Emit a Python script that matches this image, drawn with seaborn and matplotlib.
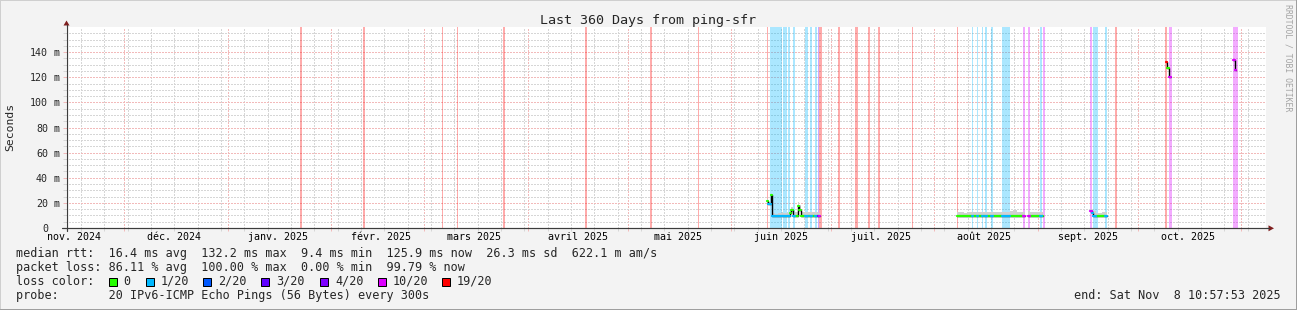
import matplotlib
matplotlib.use("Agg")
import matplotlib.pyplot as plt
import matplotlib.dates as mdates
from matplotlib.lines import Line2D
from matplotlib.patches import Rectangle, Polygon
from matplotlib.ticker import FixedLocator, NullFormatter
import numpy as np
import pandas as pd
import seaborn as sns

# ---------------- data ----------------
title = "Last 360 Days from ping-sfr"
end_time = "2025-11-08 10:57:53"
span_days = 360
end_label = "end: Sat Nov  8 10:57:53 2025"
watermark = "RRDTOOL / TOBI OETIKER"
y_title = "Seconds"

month_labels = ["nov. 2024", "déc. 2024", "janv. 2025", "févr. 2025", "mars 2025",
                "avril 2025", "mai 2025", "juin 2025", "juil. 2025", "août 2025",
                "sept. 2025", "oct. 2025"]
first_month = "2024-11-01"

y_ticks_ms = [0, 20, 40, 60, 80, 100, 120, 140]
y_tick_labels = ["0", "20 m", "40 m", "60 m", "80 m", "100 m", "120 m", "140 m"]
y_max_ms = 160

loss_levels = [0, 1, 2, 3, 4, 10, 19]
loss_labels = ["0", "1/20", "2/20", "3/20", "4/20", "10/20", "19/20"]
loss_colors = ["#26ff00", "#00b8ff", "#0059ff", "#5e00ff", "#7e00ff", "#dd00ff", "#ff0000"]

stat_rtt = "median rtt:  16.4 ms avg  132.2 ms max  9.4 ms min  125.9 ms now  26.3 ms sd  622.1 m am/s"
stat_loss = "packet loss: 86.11 % avg  100.00 % max  0.00 % min  99.79 % now"
loss_row_title = "loss color:"
probe_line = "probe:       20 IPv6-ICMP Echo Pings (56 Bytes) every 300s"

# loss background periods
band_start = ["2025-01-22 16:00", "2025-02-10 13:00", "2025-03-06 06:00", "2025-03-10 18:00",
              "2025-03-24 13:00", "2025-04-18 04:00", "2025-05-07 16:00", "2025-05-21 22:00",
              "2025-06-11 16:00", "2025-06-12 16:00", "2025-06-16 13:00", "2025-06-18 01:00",
              "2025-06-19 13:00", "2025-06-23 01:00", "2025-06-24 16:00", "2025-06-26 04:00",
              "2025-06-27 01:00", "2025-06-27 08:00", "2025-07-03 01:00", "2025-07-08 04:00",
              "2025-07-12 01:00", "2025-07-15 01:00", "2025-07-25 06:00", "2025-08-07 18:00",
              "2025-08-12 06:00", "2025-08-13 18:00", "2025-08-15 06:00", "2025-08-16 04:00",
              "2025-08-17 23:00", "2025-08-21 06:00", "2025-08-27 13:00", "2025-08-29 01:00",
              "2025-09-01 16:00", "2025-09-02 13:00", "2025-09-16 16:00", "2025-09-17 13:00",
              "2025-09-21 04:00", "2025-09-24 04:00", "2025-10-09 04:00", "2025-10-10 09:00",
              "2025-10-29 13:00"]
band_end = ["2025-01-23 06:00", "2025-02-11 04:00", "2025-03-06 13:00", "2025-03-11 01:00",
            "2025-03-25 04:00", "2025-04-18 18:00", "2025-05-08 06:00", "2025-05-22 05:00",
            "2025-06-11 23:00", "2025-06-16 06:00", "2025-06-17 18:00", "2025-06-18 16:00",
            "2025-06-20 04:00", "2025-06-24 01:00", "2025-06-25 06:00", "2025-06-26 18:00",
            "2025-06-27 08:00", "2025-06-28 06:00", "2025-07-03 16:00", "2025-07-09 01:00",
            "2025-07-12 16:00", "2025-07-15 16:00", "2025-07-25 13:00", "2025-08-08 01:00",
            "2025-08-12 13:00", "2025-08-14 01:00", "2025-08-15 13:00", "2025-08-16 18:00",
            "2025-08-18 13:00", "2025-08-23 16:00", "2025-08-28 04:00", "2025-08-29 16:00",
            "2025-09-02 06:00", "2025-09-03 04:00", "2025-09-17 06:00", "2025-09-19 01:00",
            "2025-09-21 18:00", "2025-09-24 18:00", "2025-10-09 18:00", "2025-10-11 06:00",
            "2025-10-31 01:00"]
band_loss = [19, 19, 19, 19, 19, 19, 19, 19,
             19, 1, 1, 1, 1, 1, 1, 1,
             3, 19, 19, 19, 19, 19, 19, 19,
             1, 1, 1, 1, 1, 1, 10, 10,
             1, 10, 10, 1, 1, 19, 19, 10,
             10]

# median rtt (ms), loss count (of 20), data segment, top of smoke (ms)
med_time = ["2025-06-11 18:00", "2025-06-12 02:00", "2025-06-12 20:00", "2025-06-13 04:00",
            "2025-06-14 04:00", "2025-06-15 04:00", "2025-06-16 04:00", "2025-06-16 14:00",
            "2025-06-17 18:00", "2025-06-18 02:00", "2025-06-18 16:00", "2025-06-18 23:00",
            "2025-06-19 12:00", "2025-06-20 06:00", "2025-06-20 22:00", "2025-06-21 08:00",
            "2025-06-21 20:00", "2025-06-22 20:00", "2025-06-23 02:00", "2025-06-24 02:00",
            "2025-06-24 16:00", "2025-06-25 06:00", "2025-06-26 04:00", "2025-06-26 18:00",
            "2025-06-27 01:00", "2025-06-27 08:00", "2025-06-27 16:00",
            "2025-08-07 18:00", "2025-08-08 18:00", "2025-08-09 18:00", "2025-08-10 18:00",
            "2025-08-11 18:00", "2025-08-12 06:00", "2025-08-12 14:00", "2025-08-13 18:00",
            "2025-08-14 02:00", "2025-08-15 06:00", "2025-08-15 14:00", "2025-08-16 04:00",
            "2025-08-16 18:00", "2025-08-17 23:00", "2025-08-18 14:00", "2025-08-19 14:00",
            "2025-08-20 14:00", "2025-08-21 06:00", "2025-08-23 16:00", "2025-08-24 16:00",
            "2025-08-25 16:00", "2025-08-26 16:00", "2025-08-27 12:00", "2025-08-28 02:00",
            "2025-08-29 01:00", "2025-08-29 16:00", "2025-08-30 16:00", "2025-08-31 16:00",
            "2025-09-01 16:00", "2025-09-02 06:00", "2025-09-02 13:00",
            "2025-09-16 14:00", "2025-09-17 06:00", "2025-09-17 16:00", "2025-09-18 08:00",
            "2025-09-19 08:00", "2025-09-20 08:00", "2025-09-21 04:00", "2025-09-21 16:00",
            "2025-10-09 11:00", "2025-10-09 18:00", "2025-10-10 09:00", "2025-10-11 02:00",
            "2025-10-29 12:00", "2025-10-30 02:00", "2025-10-30 14:00"]
med_ms = [21.5, 19.0, 26.5, 9.3, 9.3, 9.3, 9.5, 9.3, 9.5, 9.5, 12.0, 14.3, 9.5, 9.5,
          17.5, 14.0, 9.5, 9.5, 9.5, 9.5, 9.5, 9.5, 9.5, 9.5, 9.5, 9.5, 9.5,
          9.5, 9.5, 9.5, 9.6, 9.5, 9.5, 9.5, 9.5, 9.5, 9.5, 9.5, 9.5, 9.5, 9.5, 9.5, 9.6,
          9.5, 9.5, 9.5, 9.5, 9.5, 9.5, 9.5, 9.5,
          9.5, 9.5, 9.5, 9.5, 9.5, 9.5, 9.5,
          13.8, 11.8, 9.3, 9.3, 9.3, 9.3, 9.5, 9.5,
          132.3, 127.0, 120.4, 120.4,
          133.6, 125.9, 125.9]
med_loss = [0, 1, 0, 1, 1, 1, 1, 1, 0, 1, 0, 0, 1, 0, 0, 0, 0, 0, 1, 0, 1, 0, 1, 0, 3, 10, 10,
            0, 0, 0, 0, 0, 1, 0, 1, 0, 1, 0, 1, 0, 1, 0, 0, 0, 1, 0, 0, 0, 0, 10, 10,
            10, 0, 0, 0, 1, 0, 0,
            10, 1, 1, 0, 0, 0, 1, 1,
            19, 0, 10, 10,
            10, 10, 10]
med_seg = [1] * 27 + [2] * 24 + [3] * 7 + [4] * 8 + [5] * 4 + [6] * 3
smoke_hi_ms = [23, 21, 27, 12, 11.5, 12, 12.5, 12, 13, 12, 15, 17, 12, 13, 21, 18, 13, 12.5,
               13, 12.5, 13, 12.5, 13, 12.5, 12, 12, 12,
               12.5, 12.5, 12, 12.5, 12.5, 12.5, 12.5, 12.5, 12.5, 13, 12.5, 13, 12.5, 13,
               12.5, 13, 12.5, 13, 13.5, 14, 13, 12.5, 13, 13,
               13.5, 12.5, 12.5, 12.5, 12.5, 12.5, 12.5,
               15, 14.5, 13.5, 12, 12, 12.5, 13, 13,
               132.3, 127.0, 120.4, 120.4,
               133.6, 125.9, 125.9]

# ---------------- style ----------------
W, H = 1297, 310
sns.set_theme(style="white")
plt.rcParams["font.family"] = ["DejaVu Sans Mono", "DejaVu Sans"]
plt.rcParams["lines.scale_dashes"] = False

BACK = "#f3f3f3"
GRID = "#d6d6d6"
MGRID = "#f2baba"
AXIS = "#3c3c3c"
ARROW = "#7f1f1f"
PX = 0.72  # one pixel in points at 100 dpi

fig = plt.figure(figsize=(W / 100, H / 100), dpi=100, facecolor=BACK)


def fx(x):
    return x / W


def fy(y):
    return 1 - y / H


plot_l, plot_r, plot_t, plot_b = 66, 1266, 27, 228
ax = fig.add_axes([fx(plot_l), fy(plot_b), (plot_r - plot_l) / W, (plot_b - plot_t) / H])
ax.set_facecolor("white")
for s in ax.spines.values():
    s.set_visible(False)

t_end = pd.Timestamp(end_time)
t_start = t_end - pd.Timedelta(days=span_days)
ax.set_xlim(t_start, t_end)
ax.set_ylim(0, y_max_ms)

# grid
ax.xaxis.set_major_locator(mdates.MonthLocator())
ax.xaxis.set_minor_locator(mdates.WeekdayLocator(byweekday=mdates.MO))
ax.xaxis.set_major_formatter(NullFormatter())
ax.xaxis.set_minor_formatter(NullFormatter())
ax.yaxis.set_major_locator(FixedLocator(y_ticks_ms))
ax.yaxis.set_minor_locator(FixedLocator(np.arange(5, y_max_ms, 5)))
ax.yaxis.set_major_formatter(NullFormatter())
ax.yaxis.set_minor_formatter(NullFormatter())
dot = (0, (1.5 * PX, 1.5 * PX))
ax.grid(True, which="major", color=MGRID, linestyle=dot, linewidth=PX, antialiased=False)
ax.grid(True, which="minor", color=GRID, linestyle=dot, linewidth=PX, antialiased=False)
ax.set_axisbelow(True)
ax.tick_params(which="major", direction="out", length=3 * PX, width=PX, color=MGRID,
               bottom=True, left=True, labelbottom=False, labelleft=False)
ax.tick_params(which="minor", direction="out", length=3 * PX, width=PX, color=GRID,
               bottom=True, left=True)

# loss backgrounds
color_of = dict(zip(loss_levels, loss_colors))
for s, e, l in zip(band_start, band_end, band_loss):
    ax.axvspan(pd.Timestamp(s), pd.Timestamp(e), color=color_of[l], alpha=0.33, lw=0, zorder=1)

# data
df = pd.DataFrame({"time": pd.to_datetime(med_time), "ms": med_ms, "loss": med_loss,
                   "seg": med_seg, "smoke": smoke_hi_ms})

for _, g in df.groupby("seg"):
    ax.fill_between(g["time"], g["ms"], g["smoke"], step="post", color="#d0d0d0",
                    lw=0, zorder=2)

sns.lineplot(data=df, x="time", y="ms", units="seg", estimator=None, color="black",
             lw=1.0, drawstyle="steps-post", ax=ax, zorder=3, legend=False)

rows = []
iv = 0
for _, g in df.groupby("seg"):
    g = g.reset_index(drop=True)
    for i in range(len(g) - 1):
        lab = loss_labels[loss_levels.index(g.loc[i, "loss"])]
        rows.append((g.loc[i, "time"], g.loc[i, "ms"], lab, iv))
        rows.append((g.loc[i + 1, "time"], g.loc[i, "ms"], lab, iv))
        iv += 1
dfi = pd.DataFrame(rows, columns=["t", "v", "loss", "iv"])
sns.lineplot(data=dfi, x="t", y="v", hue="loss", units="iv", estimator=None,
             palette=dict(zip(loss_labels, loss_colors)), lw=1.6, ax=ax, zorder=4,
             legend=False)
ax.set_xlabel("")
ax.set_ylabel("")
ax.set_xlim(t_start, t_end)
ax.set_ylim(0, y_max_ms)

# x labels centred mid-month
month_pos = pd.date_range(first_month, periods=len(month_labels), freq="MS") + pd.Timedelta(days=15)
xt = ax.get_xaxis_transform()
for p, lab in zip(month_pos, month_labels):
    ax.text(p, -12 / (plot_b - plot_t), lab, transform=xt, ha="center", va="baseline",
            fontsize=7.2, color="black")

# y labels: number right-aligned, unit after
yt = ax.get_yaxis_transform()
for v, lab in zip(y_ticks_ms, y_tick_labels):
    parts = lab.split(" ")
    ax.text(-(plot_l - 48) / (plot_r - plot_l), v, parts[0], transform=yt, ha="right",
            va="center_baseline", fontsize=7.2)
    if len(parts) > 1:
        ax.text(-(plot_l - 54) / (plot_r - plot_l), v, parts[1], transform=yt, ha="left",
                va="center_baseline", fontsize=7.2)

# axes lines and arrows
fig.add_artist(Line2D([fx(66.5), fx(66.5)], [fy(231), fy(25)], color=AXIS, lw=1.2 * PX))
fig.add_artist(Line2D([fx(62), fx(1269)], [fy(228.3), fy(228.3)], color=AXIS, lw=1.2 * PX))
fig.add_artist(Polygon([[fx(63.5), fy(25.5)], [fx(69.5), fy(25.5)], [fx(66.5), fy(20.5)]],
                       closed=True, color=ARROW, lw=0, transform=fig.transFigure))
fig.add_artist(Polygon([[fx(1268.5), fy(225.3)], [fx(1268.5), fy(231.3)], [fx(1274), fy(228.3)]],
                       closed=True, color=ARROW, lw=0, transform=fig.transFigure))

# titles
fig.text(fx(648), fy(24), title, ha="center", va="baseline", fontsize=9.6)
fig.text(fx(10), fy(127), y_title, rotation=90, ha="center", va="center", fontsize=8.2)
fig.text(fx(1288), fy(4), watermark, rotation=270, ha="center", va="top", fontsize=5.9,
         color="#a4a4a4")

# legend / stats
base = [257.5, 271.2, 285.0, 298.7]
fig.text(fx(16), fy(base[0]), stat_rtt, ha="left", va="baseline", fontsize=8.5)
fig.text(fx(16), fy(base[1]), stat_loss, ha="left", va="baseline", fontsize=8.5)
fig.text(fx(16), fy(base[2]), loss_row_title, ha="left", va="baseline", fontsize=8.5)
fig.text(fx(16), fy(base[3]), probe_line, ha="left", va="baseline", fontsize=8.5)
fig.text(fx(1281), fy(base[3]), end_label, ha="right", va="baseline", fontsize=8.5)

box_x = [108.5, 146, 203, 261, 320, 378, 442]
for bx, lab, col in zip(box_x, loss_labels, loss_colors):
    fig.add_artist(Rectangle((fx(bx), fy(285.5)), 8 / W, 8 / H, transform=fig.transFigure,
                             facecolor=col, edgecolor="black", lw=PX))
    fig.text(fx(bx + 15), fy(base[2]), lab, ha="left", va="baseline", fontsize=8.5)

# frame shading
fig.add_artist(Line2D([0, 0], [0, 1], color="#cfcfcf", lw=2 * PX, transform=fig.transFigure))
fig.add_artist(Line2D([0, 1], [1, 1], color="#cfcfcf", lw=2 * PX, transform=fig.transFigure))
fig.add_artist(Line2D([1, 1], [0, 1], color="#9e9e9e", lw=3 * PX, transform=fig.transFigure))
fig.add_artist(Line2D([0, 1], [0, 0], color="#9e9e9e", lw=3 * PX, transform=fig.transFigure))

fig.savefig("out.png", dpi=100, facecolor=BACK)
